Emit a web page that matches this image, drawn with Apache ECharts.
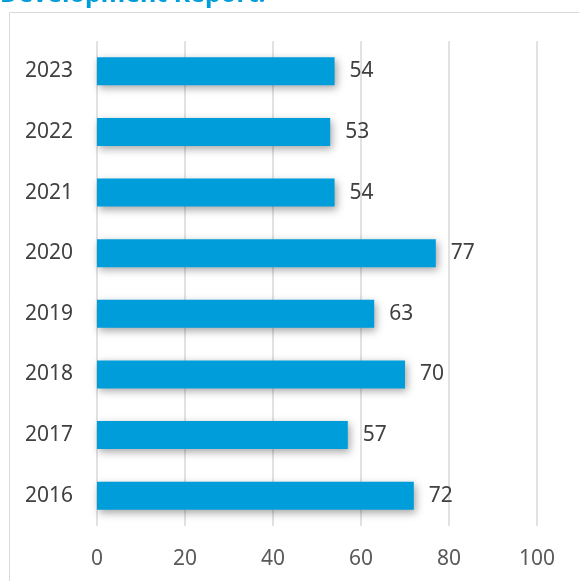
<!DOCTYPE html>
<html>
<head>
<meta charset="utf-8">
<script src="https://cdn.jsdelivr.net/npm/echarts@6/dist/echarts.min.js"></script>
<style>
  html, body { margin: 0; padding: 0; background: #fff; }
  #chart { width: 579px; height: 581px; }
</style>
</head>
<body>
<div id="chart"></div>
<script>
// Yearly values, listed from the bottom bar (2016) to the top bar (2023)
const years = ['2016', '2017', '2018', '2019', '2020', '2021', '2022', '2023'];
const values = [72, 57, 70, 63, 77, 54, 53, 54];
const titleText = 'Development Report:';

const FONT = '"Noto Sans", "Open Sans", sans-serif';
const chart = echarts.init(document.getElementById('chart'), null, { renderer: 'canvas' });

chart.setOption({
  backgroundColor: '#ffffff',
  animation: false,
  graphic: [
    {
      type: 'rect',
      silent: true,
      shape: { x: 9.5, y: 12.5, width: 600, height: 600 },
      style: { fill: 'none', stroke: '#d9d9d9', lineWidth: 1 }
    },
    {
      type: 'text',
      silent: true,
      style: {
        x: 0,
        y: 7.5,
        verticalAlign: 'bottom',
        text: titleText,
        fill: '#009ddb',
        font: 'bold 25px ' + FONT
      }
    }
  ],
  grid: { left: 97, right: 42, top: 41, bottom: 55, containLabel: false },
  xAxis: {
    type: 'value',
    min: 0,
    max: 100,
    interval: 20,
    axisLine: { show: false },
    axisTick: { show: false },
    axisLabel: { color: '#595959', fontSize: 21, fontFamily: FONT, margin: 23 },
    splitLine: { show: true, lineStyle: { color: '#d9d9d9', width: 1.5 } }
  },
  yAxis: {
    type: 'category',
    data: years,
    axisLine: { show: false },
    axisTick: { show: false },
    axisLabel: { color: '#404040', fontSize: 21, fontFamily: FONT, margin: 24 },
    splitLine: { show: false }
  },
  series: [{
    type: 'bar',
    data: values,
    barWidth: 28,
    itemStyle: {
      color: '#009ddb',
      shadowColor: 'rgba(0,0,0,0.35)',
      shadowBlur: 8,
      shadowOffsetX: 2,
      shadowOffsetY: 3
    },
    label: {
      show: true,
      position: 'right',
      distance: 15,
      color: '#404040',
      fontSize: 21,
      fontFamily: FONT
    }
  }]
});
</script>
</body>
</html>
